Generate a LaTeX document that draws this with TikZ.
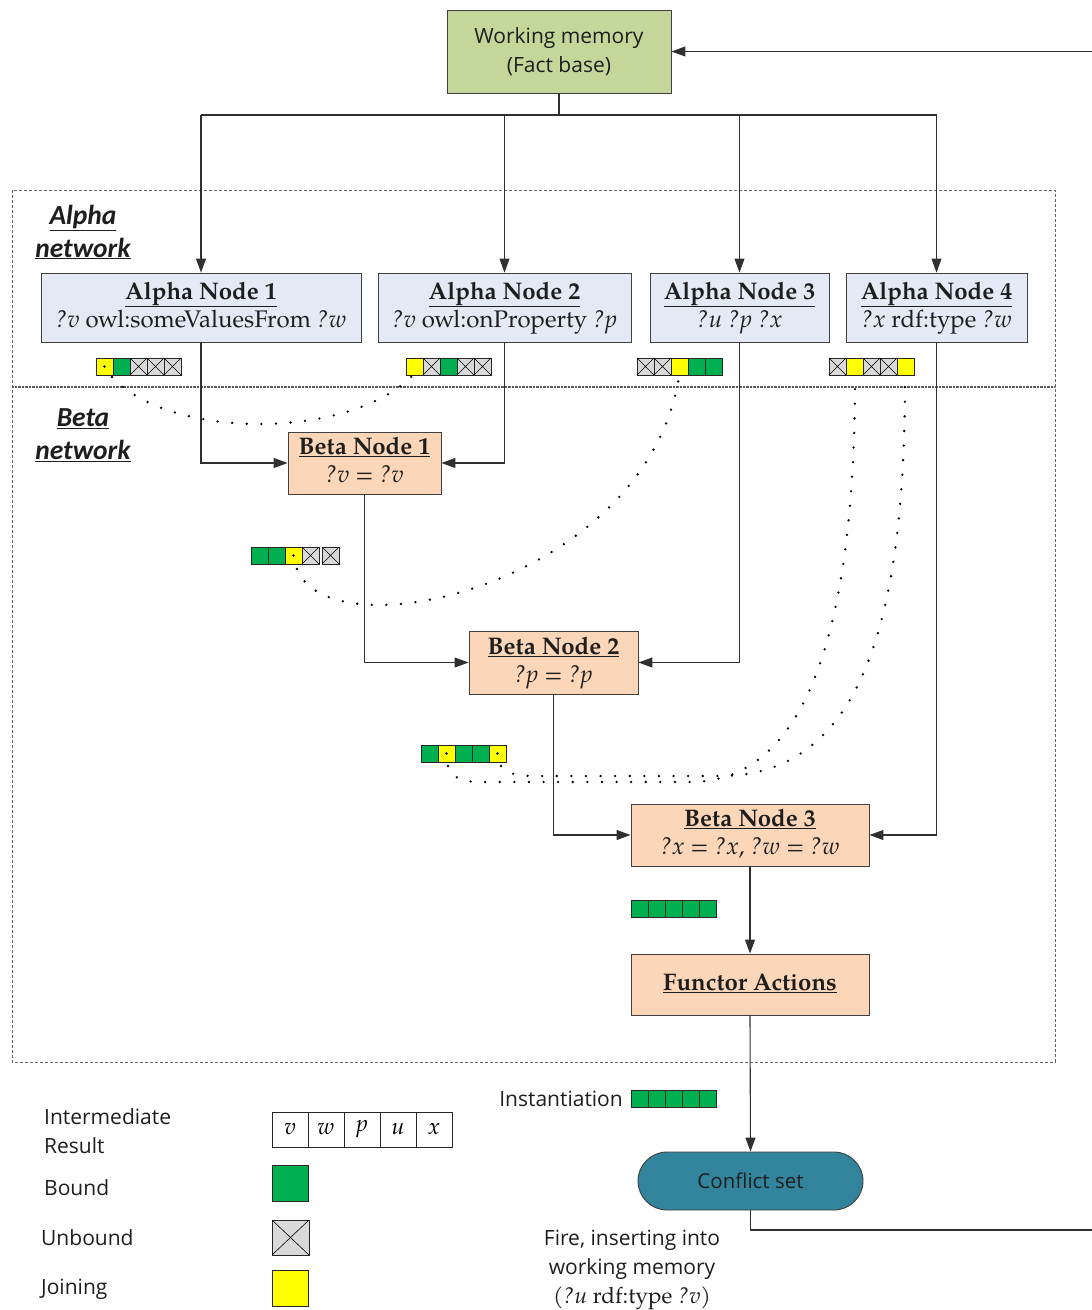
\documentclass[tikz,border=0pt]{standalone}
\usepackage{fontspec}
\usetikzlibrary{arrows.meta}
\setmainfont{Open Sans}
\newfontfamily\calib{Carlito}
\IfFontExistsTF{texgyrepagella-regular.otf}{%
  \newfontfamily\pal{texgyrepagella}[Extension=.otf,UprightFont=*-regular,BoldFont=*-bold,ItalicFont=*-italic,BoldItalicFont=*-bolditalic]}{%
  \newfontfamily\pal{Liberation Serif}}

\definecolor{wmfill}{HTML}{C4D79B}
\definecolor{alphafill}{HTML}{E3EAF6}
\definecolor{betafill}{HTML}{FBD6B8}
\definecolor{csfill}{HTML}{31849B}
\definecolor{boxline}{HTML}{404040}
\definecolor{connline}{HTML}{303030}
\definecolor{bgreen}{HTML}{00B050}
\definecolor{byellow}{HTML}{FFFF00}
\definecolor{bgrey}{HTML}{D9D9D9}
\definecolor{txt}{HTML}{1E1E1E}

\tikzset{
  box/.style={draw=boxline, line width=0.9pt, inner sep=0pt, align=center, text=txt},
  wmbox/.style={box, fill=wmfill, font=\fontsize{21}{29}\selectfont},
  alphabox/.style={box, fill=alphafill, minimum height=69, font=\pal\fontsize{24}{28}\selectfont},
  betabox/.style={box, fill=betafill, font=\pal\fontsize{24}{28}\selectfont},
  csbox/.style={box, fill=csfill, rounded corners=29pt, font=\fontsize{20.5}{24}\selectfont},
  netlabel/.style={align=center, text=txt, font=\calib\bfseries\itshape\fontsize{27.5}{33}\selectfont},
  legtext/.style={anchor=west, align=left, inner sep=0pt, text=txt, font=\fontsize{21}{29}\selectfont},
  conn/.style={draw=connline, line width=1.1pt},
  arr/.style={conn, -{Triangle[length=14pt,width=10pt]}},
  joinpath/.style={line width=2.6pt, line cap=round, dash pattern=on 0pt off 14.6pt},
  region/.style={draw=gray!80!black, line width=0.8pt, dash pattern=on 3pt off 2pt},
  divider/.style={draw=gray!70!black, line width=1.2pt, dash pattern=on 0.8pt off 0.6pt},
  cellbd/.style={draw=black!85, line width=0.8pt},
}

% one 17x17 cell of an intermediate result
\newcommand\cellG[2]{\draw[cellbd, fill=bgreen] (#1,#2) rectangle ++(17,17);}
\newcommand\cellY[2]{\draw[cellbd, fill=byellow] (#1,#2) rectangle ++(17,17);}
\newcommand\cellD[2]{\draw[cellbd, fill=byellow] (#1,#2) rectangle ++(17,17);
  \fill (#1+8.5,#2+8.5) circle (1.4);}
\newcommand\cellX[2]{\draw[cellbd, fill=bgrey] (#1,#2) rectangle ++(17,17);
  \draw[line width=0.6pt] (#1,#2) -- ++(17,17) (#1+17,#2) -- ++(-17,17);}
\newcommand\cellrow[3]{\foreach \t [count=\i from 0] in {#3}{\csname cell\t\endcsname{#1+\i*17}{#2}}}

\newcommand\vr[1]{\textit{#1}}
% title line and condition line of a rete node
\newcommand\twoline[2]{\strut\textbf{\underline{#1}}\\\strut #2}

\begin{document}
\begin{tikzpicture}[x=1pt,y=-1pt]
\useasboundingbox (0,0) rectangle (1092,1310);

% network regions
\draw[region] (12,190) rectangle (1055,1062);
\draw[divider] (12,387) -- (1055,387);
\node[netlabel] (alphalbl) at (83,232) {\underline{Alpha}\\\underline{network}};
\node[netlabel] (betalbl) at (83,435) {\underline{Beta}\\\underline{network}};

% nodes
\node[wmbox, minimum width=224, minimum height=83] (wm) at (559,51.5) {Working memory\\(Fact base)};

\node[alphabox, minimum width=320] (an1) at (201,307.5)
  {\twoline{Alpha Node 1}{\vr{?v} owl:someValuesFrom \vr{?w}}};
\node[alphabox, minimum width=253] (an2) at (504.5,307.5)
  {\twoline{Alpha Node 2}{\vr{?v} owl:onProperty \vr{?p}}};
\node[alphabox, minimum width=179] (an3) at (739.5,307.5)
  {\twoline{Alpha Node 3}{\vr{?u ?p ?x}}};
\node[alphabox, minimum width=181] (an4) at (936.5,307.5)
  {\twoline{Alpha Node 4}{\vr{?x} rdf:type \vr{?w}}};

\node[betabox, minimum width=153, minimum height=62] (b1) at (364.5,463)
  {\twoline{Beta Node 1}{\vr{?v} = \vr{?v}}};
\node[betabox, minimum width=169, minimum height=63] (b2) at (553.5,662.5)
  {\twoline{Beta Node 2}{\vr{?p} = \vr{?p}}};
\node[betabox, minimum width=238, minimum height=62] (b3) at (750,835)
  {\twoline{Beta Node 3}{\vr{?x} = \vr{?x}, \vr{?w} = \vr{?w}}};
\node[betabox, minimum width=238, minimum height=61] (fa) at (750,984.5)
  {\strut\textbf{\underline{Functor Actions}}};
\node[csbox, minimum width=225, minimum height=58] (cs) at (750.5,1181) {Conflict set};

% connectors
\coordinate (busL) at (201,115);
\coordinate (busR) at (937,115);
\draw[conn] (wm.south) -- (wm.south |- busL);
\draw[conn] (busL) -- (busR);
\draw[arr] (busL) -- (an1.north);
\draw[arr] (an2.north |- busL) -- (an2.north);
\draw[arr] (an3.north |- busL) -- (an3.north);
\draw[arr] (an4.north |- busL) -- (an4.north);

\draw[arr] (an1.south) |- (b1.west);
\draw[arr] (an2.south) |- (b1.east);
\draw[arr] (b1.south) |- (b2.west);
\draw[arr] (an3.south) |- (b2.east);
\draw[arr] (b2.south) |- (b3.west);
\draw[arr] (an4.south) |- (b3.east);
\draw[arr] (b3.south) -- (fa.north);
\draw[arr] (fa.south) -- (cs.north);

\coordinate (loopB) at (1096,1230);
\coordinate (loopT) at (1096,51.5);
\draw[arr] (cs.south) |- (loopB) -- (loopT) -- (wm.east);

% intermediate results
\cellrow{96}{358}{D,G,X,X,X}
\cellrow{406}{358}{Y,X,G,X,X}
\cellrow{637}{358}{X,X,Y,G,G}
\cellrow{829}{358}{X,Y,X,X,Y}
\cellrow{251}{547}{G,G,D,X}
\cellX{322}{547}
\cellrow{421}{745}{G,D,G,G,D}
\cellrow{631}{900}{G,G,G,G,G}
\cellrow{631}{1090}{G,G,G,G,G}

% joining paths between intermediate results
\coordinate (j1a) at (112,377);
\coordinate (j1b) at (413,375);
\coordinate (j2a) at (297,569);
\coordinate (j2b) at (679,377);
\coordinate (j3a) at (448,766);
\coordinate (j3b) at (855,377);
\coordinate (j4a) at (501,766);
\coordinate (j4b) at (905,377);
\draw[joinpath] (j1a) .. controls (170,440) and (350,440) .. (j1b);
\draw[joinpath] (j2a) .. controls (330,655) and (645,585) .. (j2b);
\draw[joinpath] (j3a) .. controls (455,784) and (470,782) .. (500,782)
  -- (690,782) .. controls (810,782) and (855,620) .. (j3b);
\draw[joinpath] (j4a) .. controls (510,776) and (520,776) .. (545,776)
  -- (720,776) .. controls (870,776) and (905,600) .. (j4b);

\node[legtext, anchor=east] (inst) at (623,1099) {Instantiation};
\node[align=center, inner sep=0pt, text=txt, font=\fontsize{21}{29}\selectfont] (fire) at (632,1270)
  {Fire, inserting into\\working memory\\{\pal\fontsize{22.5}{29}\selectfont(\vr{?u} rdf:type \vr{?v})}};

% legend
\node[legtext] (lgres) at (44,1131) {Intermediate\\Result};
\node[legtext] (lgbound) at (44,1188) {Bound};
\node[legtext] (lgunbound) at (41,1238) {Unbound};
\node[legtext] (lgjoin) at (41,1289) {Joining};
\foreach \v [count=\i from 0] in {v,w,p,u,x}{
  \node[draw=black!85, line width=0.8pt, minimum width=36, minimum height=35, inner sep=0pt,
        font=\pal\itshape\fontsize{23}{24}\selectfont] (lgc\i) at (290+\i*36,1129.5) {\v};
}
\draw[cellbd, fill=bgreen] (272,1165) rectangle (308,1201);
\draw[cellbd, fill=bgrey] (272,1220) rectangle (309,1255);
\draw[line width=0.6pt] (272,1220) -- (309,1255) (309,1220) -- (272,1255);
\draw[cellbd, fill=byellow] (272,1270) rectangle (308,1306);
\end{tikzpicture}
\end{document}
